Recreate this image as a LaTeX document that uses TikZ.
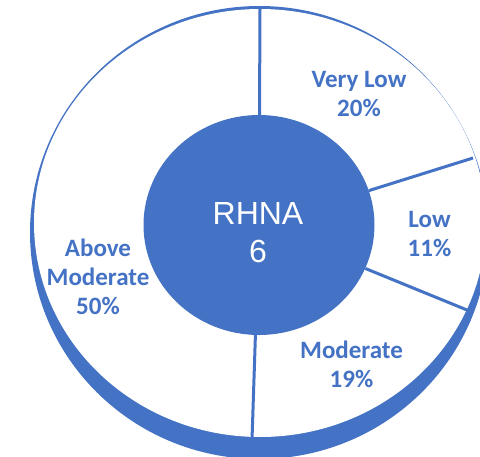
\documentclass[tikz,border=0pt]{standalone}
\usepackage{fontspec}
\setmainfont{Liberation Sans}
\newfontfamily\labfont{Carlito}
\usetikzlibrary{shapes.geometric}
\definecolor{chartblue}{HTML}{4472C4}
\tikzset{
  spoke/.style={draw=chartblue, line width=3pt},
  seglabel/.style={text=chartblue, align=center, inner sep=0pt,
    font=\labfont\bfseries\fontsize{25}{29}\selectfont},
  hubstyle/.style={ellipse, fill=chartblue, draw=none, inner sep=0pt,
    minimum width=231pt, minimum height=220pt},
  hubtext/.style={text=white, align=center, inner sep=0pt,
    font=\fontsize{32}{38}\selectfont}
}
\begin{document}
\begin{tikzpicture}[x=1pt,y=-1pt]
\useasboundingbox (0,0) rectangle (480,456);
\clip (0,0) rectangle (480,456);
% outer ring
\fill[chartblue] (259.3,232.5) ellipse [x radius=229.3, y radius=226.5];
\fill[white] (260,223) ellipse [x radius=226, y radius=214];
% hub
\node[hubstyle] (hub) at (259,225) {};
% spoke ends
\coordinate (e1) at (260,9);
\coordinate (e2) at (473,158);
\coordinate (e3) at (467,310);
\coordinate (e4) at (252,440);
\draw[spoke] (hub) -- (e1);
\draw[spoke] (hub) -- (e2);
\draw[spoke] (hub) -- (e3);
\draw[spoke] (hub) -- (e4);
\node[hubtext] (ht) at (258,232.5) {RHNA\\6};
% labels
\node[seglabel] (vl) at (359,94) {Very Low\\20\%};
\node[seglabel] (lo) at (429.5,233.5) {Low\\11\%};
\node[seglabel] (mo) at (351.5,364.5) {Moderate\\19\%};
\node[seglabel] (am) at (98,277) {Above\\Moderate\\50\%};
\end{tikzpicture}
\end{document}
